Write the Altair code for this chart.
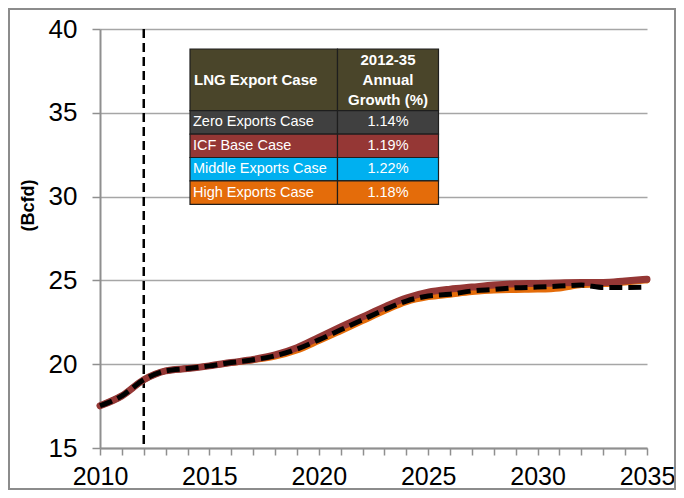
import altair as alt
import pandas as pd

# ---------------- data ----------------
years = list(range(2010, 2036))
zero_exports = [17.52, 18.11, 19.07, 19.60, 19.74, 19.90, 20.10, 20.26, 20.50, 20.90,
                21.45, 22.05, 22.65, 23.25, 23.77, 24.07, 24.17, 24.37, 24.46, 24.56,
                24.60, 24.66, 24.72, 24.58, 24.58, 24.60]
icf_base = [17.52, 18.11, 19.07, 19.60, 19.74, 19.90, 20.10, 20.28, 20.55, 20.98,
            21.60, 22.22, 22.82, 23.42, 23.95, 24.30, 24.48, 24.60, 24.72, 24.80,
            24.82, 24.85, 24.87, 24.88, 24.97, 25.07]
middle_exports = [17.52, 18.11, 19.07, 19.60, 19.74, 19.90, 20.10, 20.27, 20.53, 20.95,
                  21.56, 22.18, 22.78, 23.38, 23.90, 24.25, 24.44, 24.57, 24.69, 24.77,
                  24.79, 24.82, 24.85, 24.86, 24.95, 25.05]
high_exports = [17.52, 18.11, 19.07, 19.60, 19.74, 19.90, 20.08, 20.24, 20.45, 20.82,
                21.38, 21.97, 22.57, 23.17, 23.70, 24.00, 24.15, 24.30, 24.40, 24.43,
                24.45, 24.52, 24.72, 24.78, 24.88, 25.00]

projection_start = [2012]
y_ticks = [15, 20, 25, 30, 35, 40]

case_names = ["Zero Exports Case", "ICF Base Case", "Middle Exports Case", "High Exports Case"]
growth_values = ["1.14%", "1.19%", "1.22%", "1.18%"]
header_left = "LNG Export Case"
header_right = ["2012-35", "Annual", "Growth (%)"]

# ---------------- styles ----------------
FONT = "Liberation Sans"
case_fills = ["#404040", "#953735", "#00B0F0", "#E46C0A"]
header_fill = "#4A452A"
AXIS_GRAY = "#8F8F8F"

# plot area in page pixels: left 100, top 29, width 547, height 419
PL, PT = 100, 29
W, H = 547, 419

series = [
    ("Middle Exports Case", middle_exports, "#00B0F0", 6, None),
    ("High Exports Case", high_exports, "#E46C0A", 6, None),
    ("ICF Base Case", icf_base, "#953735", 7, None),
    ("Zero Exports Case", zero_exports, "#000000", 5, [13, 6]),
]

x_scale = alt.Scale(domain=[2010, 2035], nice=False, zero=False)
y_scale = alt.Scale(domain=[15, 40], nice=False, zero=False)

x_axis = alt.Axis(values=years, format="d",
                  labelExpr="datum.value % 5 === 0 ? datum.label : ''",
                  grid=False, title=None, domainColor=AXIS_GRAY, domainWidth=2,
                  tickColor=AXIS_GRAY, tickWidth=1.5, tickSize=7,
                  labelFont=FONT, labelFontSize=25, labelColor="#000000",
                  labelPadding=9, labelOverlap=False, labelFlush=False)
y_axis = alt.Axis(values=y_ticks, grid=True, gridColor="#A6A6A6", gridWidth=1.5,
                  domainColor=AXIS_GRAY, domainWidth=2,
                  tickColor=AXIS_GRAY, tickWidth=1.5, tickSize=8,
                  labelFont=FONT, labelFontSize=26, labelColor="#000000",
                  labelPadding=15, title="(Bcfd)", titleFont=FONT, titleFontSize=18,
                  titleFontWeight="bold", titleColor="#000000", titleAngle=-90,
                  titleX=28 - PL, titleY=205 - PT, titleAlign="center",
                  titleBaseline="middle")

data_layers = []
for name, vals, color, width, dash in series:
    d = pd.DataFrame({"year": years, "value": vals, "case": name})
    kw = dict(color=color, strokeWidth=width, interpolate="monotone",
              strokeCap="round" if dash is None else "butt", clip=False)
    if dash is not None:
        kw["strokeDash"] = dash
    data_layers.append(alt.Chart(d).mark_line(**kw).encode(
        x=alt.X("year:Q", scale=x_scale, axis=x_axis),
        y=alt.Y("value:Q", scale=y_scale, axis=y_axis),
    ))

rule = alt.Chart(pd.DataFrame({"year": projection_start})).mark_rule(
    color="#000000", strokeWidth=2.5, strokeDash=[9, 5]
).encode(x=alt.X("year:Q", scale=x_scale, axis=x_axis))

# rule drawn first (under the lines)
data_chart = alt.layer(rule, *data_layers)

# ---------------- table (legend) ----------------
tx0, tdiv, tx1 = 190, 337.5, 438.5
ty0, thead, trow = 49, 61.7, 23.4

cells = []
cells.append(dict(x0=tx0, x1=tdiv, y0=ty0, y1=ty0 + thead, fill=header_fill))
cells.append(dict(x0=tdiv, x1=tx1, y0=ty0, y1=ty0 + thead, fill=header_fill))
for r, f in enumerate(case_fills):
    a = ty0 + thead + r * trow
    cells.append(dict(x0=tx0, x1=tdiv, y0=a, y1=a + trow, fill=f))
    cells.append(dict(x0=tdiv, x1=tx1, y0=a, y1=a + trow, fill=f))
cells_df = pd.DataFrame(cells)
for c in ["x0", "x1"]:
    cells_df[c] = cells_df[c] - PL
for c in ["y0", "y1"]:
    cells_df[c] = cells_df[c] - PT

table_rect = alt.Chart(cells_df).mark_rect(stroke="#1E1E1E", strokeWidth=1.2).encode(
    x=alt.X("x0:Q", scale=None, axis=None), x2="x1:Q",
    y=alt.Y("y0:Q", scale=None, axis=None), y2="y1:Q",
    fill=alt.Fill("fill:N", scale=None, legend=None),
)

texts = []
texts.append(dict(t=header_left, x=tx0 + 4, y=ty0 + thead / 2, align="left", bold=True))
for k, line in enumerate(header_right):
    texts.append(dict(t=line, x=(tdiv + tx1) / 2, y=ty0 + 11 + k * 20, align="center", bold=True))
for r, (nm, gv) in enumerate(zip(case_names, growth_values)):
    cy = ty0 + thead + r * trow + trow / 2
    texts.append(dict(t=nm, x=tx0 + 3, y=cy, align="left", bold=False))
    texts.append(dict(t=gv, x=(tdiv + tx1) / 2, y=cy, align="center", bold=False))
tdf = pd.DataFrame(texts)
tdf["x"] = tdf["x"] - PL
tdf["y"] = tdf["y"] - PT

text_layers = []
for (align, bold), g in tdf.groupby(["align", "bold"]):
    text_layers.append(
        alt.Chart(g).mark_text(
            align=align, baseline="middle", font=FONT,
            fontSize=15 if bold else 14.5, fontWeight="bold" if bold else "normal",
            color="#FFFFFF",
        ).encode(
            x=alt.X("x:Q", scale=None, axis=None),
            y=alt.Y("y:Q", scale=None, axis=None),
            text="t:N",
        )
    )

frame = alt.Chart(pd.DataFrame({"a": [0]})).mark_rect(
    filled=False, stroke="#8C8C8C", strokeWidth=2
).encode(x=alt.value(9 - PL), x2=alt.value(675 - PL),
         y=alt.value(9 - PT), y2=alt.value(489 - PT))

chart = alt.layer(data_chart, table_rect, *text_layers, frame).resolve_scale(
    x="independent", y="independent"
).resolve_axis(x="independent", y="independent").properties(
    width=W, height=H,
    autosize=alt.AutoSizeParams(type="none"),
    padding={"left": PL - 8, "top": PT - 8, "right": 668 - (PL - 8) - W,
             "bottom": 482 - (PT - 8) - H},
    background="#FFFFFF",
).configure_view(stroke=None)

chart.save("out.html", embed_options={"renderer": "svg", "actions": False})
